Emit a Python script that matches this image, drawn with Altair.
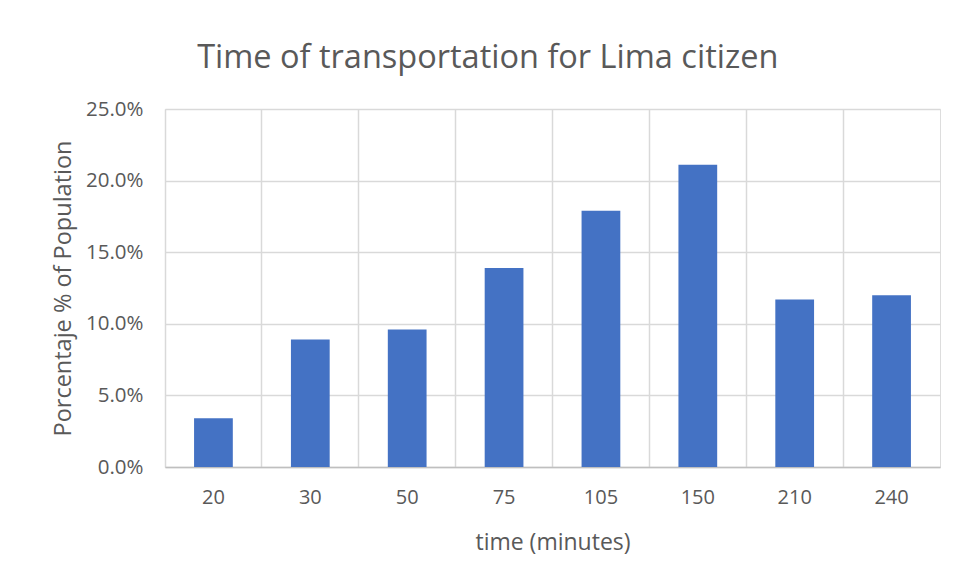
import altair as alt
import pandas as pd

times = ["20", "30", "50", "75", "105", "150", "210", "240"]
shares = [0.034, 0.089, 0.096, 0.139, 0.179, 0.211, 0.117, 0.120]

df = pd.DataFrame({"time": times, "share": shares})

FONT = "Open Sans"
TXT = "#595959"
GRID = "#d9d9d9"

xscale = alt.Scale(paddingInner=0, paddingOuter=0)
yscale = alt.Scale(domain=[0, 0.25])

yaxis = alt.Axis(values=[0, 0.05, 0.10, 0.15, 0.20, 0.25], format=".1%",
                 grid=True, gridColor=GRID, gridWidth=1.5, ticks=False,
                 domain=False, labelFont=FONT, labelFontSize=20.5,
                 labelColor=TXT, labelPadding=22,
                 title="Porcentaje % of Population", titleFont=FONT,
                 titleFontSize=23.5, titleFontWeight="normal", titleColor=TXT,
                 titlePadding=10)

grid_layer = alt.Chart(df).mark_bar(opacity=0).encode(
    x=alt.X("time:N", sort=times, scale=xscale,
            axis=alt.Axis(orient="top", grid=True, bandPosition=0, labels=False,
                          ticks=False, domain=False, title=None,
                          gridColor=GRID, gridWidth=1.5)),
    y=alt.Y("share:Q", scale=yscale, axis=yaxis),
)

bars = alt.Chart(df).mark_bar(color="#4472C4", width=alt.RelativeBandSize(0.4)).encode(
    x=alt.X("time:N", sort=times, scale=xscale,
            axis=alt.Axis(orient="bottom", grid=False, ticks=False, domain=True,
                          domainColor="#bfbfbf", domainWidth=1.5, labelAngle=0,
                          labelFont=FONT, labelFontSize=20, labelColor=TXT,
                          labelPadding=20, title="time (minutes)", titleFont=FONT,
                          titleFontSize=23, titleFontWeight="normal", titleColor=TXT,
                          titlePadding=24)),
    y=alt.Y("share:Q", scale=yscale, axis=yaxis),
)

chart = alt.layer(grid_layer, bars).resolve_axis(x="independent").properties(
    width=775,
    height=358,
    autosize=alt.AutoSizeParams(type="none"),
    padding={"left": 165, "top": 109, "right": 18, "bottom": 116},
    title=alt.TitleParams("Time of transportation for Lima citizen", font=FONT,
                          fontSize=32.5, fontWeight="normal", color=TXT,
                          anchor="middle", frame="bounds", offset=25, dx=-8),
).configure_view(stroke=GRID, strokeWidth=1.5).configure(background="white")

chart.save("out.html", embed_options={"renderer": "svg", "actions": False})
